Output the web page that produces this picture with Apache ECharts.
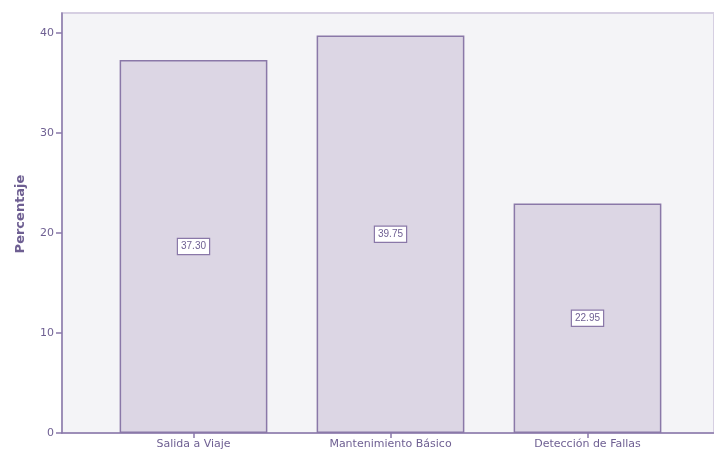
<!DOCTYPE html>
<html>
<head>
<meta charset="utf-8">
<script src="https://cdn.jsdelivr.net/npm/echarts@6/dist/echarts.min.js"></script>
<style>
  html, body { margin: 0; padding: 0; background: #ffffff; }
  #chart { width: 714px; height: 453px; }
</style>
</head>
<body>
<div id="chart"></div>
<script>
// Categories and percentages
const categories = ['Salida a Viaje', 'Mantenimiento Básico', 'Detección de Fallas'];
const percentages = [37.30, 39.75, 22.95];
const yTicks = [0, 10, 20, 30, 40];

const axisPurple = '#8a7aaa';
const textPurple = '#6e5f92';
const font = 'DejaVu Sans, Verdana, sans-serif';

const chart = echarts.init(document.getElementById('chart'));
chart.setOption({
  animation: false,
  grid: [
    // frame and value axis
    { left: 62, right: 0, top: 13, bottom: 20, show: true,
      backgroundColor: '#f4f4f7', borderColor: '#d6cfe2', borderWidth: 2 },
    // band area for the bars
    { left: 95, right: 28, top: 13, bottom: 20 }
  ],
  xAxis: [
    { gridIndex: 0, type: 'value', min: 0, max: 1, show: true,
      axisLine: { show: true, lineStyle: { color: axisPurple, width: 1.5 } },
      axisTick: { show: false }, axisLabel: { show: false }, splitLine: { show: false } },
    { gridIndex: 1, type: 'category', data: categories,
      axisLine: { show: false },
      axisTick: { show: true, alignWithLabel: true, length: 5, lineStyle: { color: axisPurple, width: 1.5 } },
      axisLabel: { color: textPurple, fontSize: 11, fontFamily: font, margin: 6 } }
  ],
  yAxis: [
    { gridIndex: 0, type: 'value', min: 0, max: 42,
      name: 'Percentaje', nameLocation: 'middle', nameGap: 35,
      nameTextStyle: { color: textPurple, fontSize: 13, fontWeight: 'bold', fontFamily: font,
        padding: [0, 0, 0, 18] },
      axisLine: { show: true, lineStyle: { color: axisPurple, width: 1.5 } },
      axisTick: { show: true, length: 6, customValues: yTicks, lineStyle: { color: axisPurple, width: 1.5 } },
      axisLabel: { color: textPurple, fontSize: 11, fontFamily: font, margin: 8, customValues: yTicks },
      splitLine: { show: false } },
    { gridIndex: 1, type: 'value', min: 0, max: 42, show: false }
  ],
  series: [{
    type: 'bar',
    xAxisIndex: 1, yAxisIndex: 1,
    data: percentages,
    barWidth: '75%',
    itemStyle: { color: '#dcd6e4', borderColor: '#8a78a8', borderWidth: 1.5 },
    label: {
      show: true, position: 'inside',
      formatter: p => p.value.toFixed(2),
      color: '#6e5f92', fontSize: 10, fontFamily: 'Liberation Sans, Arial, sans-serif',
      backgroundColor: '#ffffff', borderColor: '#8a78a8', borderWidth: 1.2,
      padding: [3, 3, 2, 3]
    }
  }]
});
</script>
</body>
</html>
